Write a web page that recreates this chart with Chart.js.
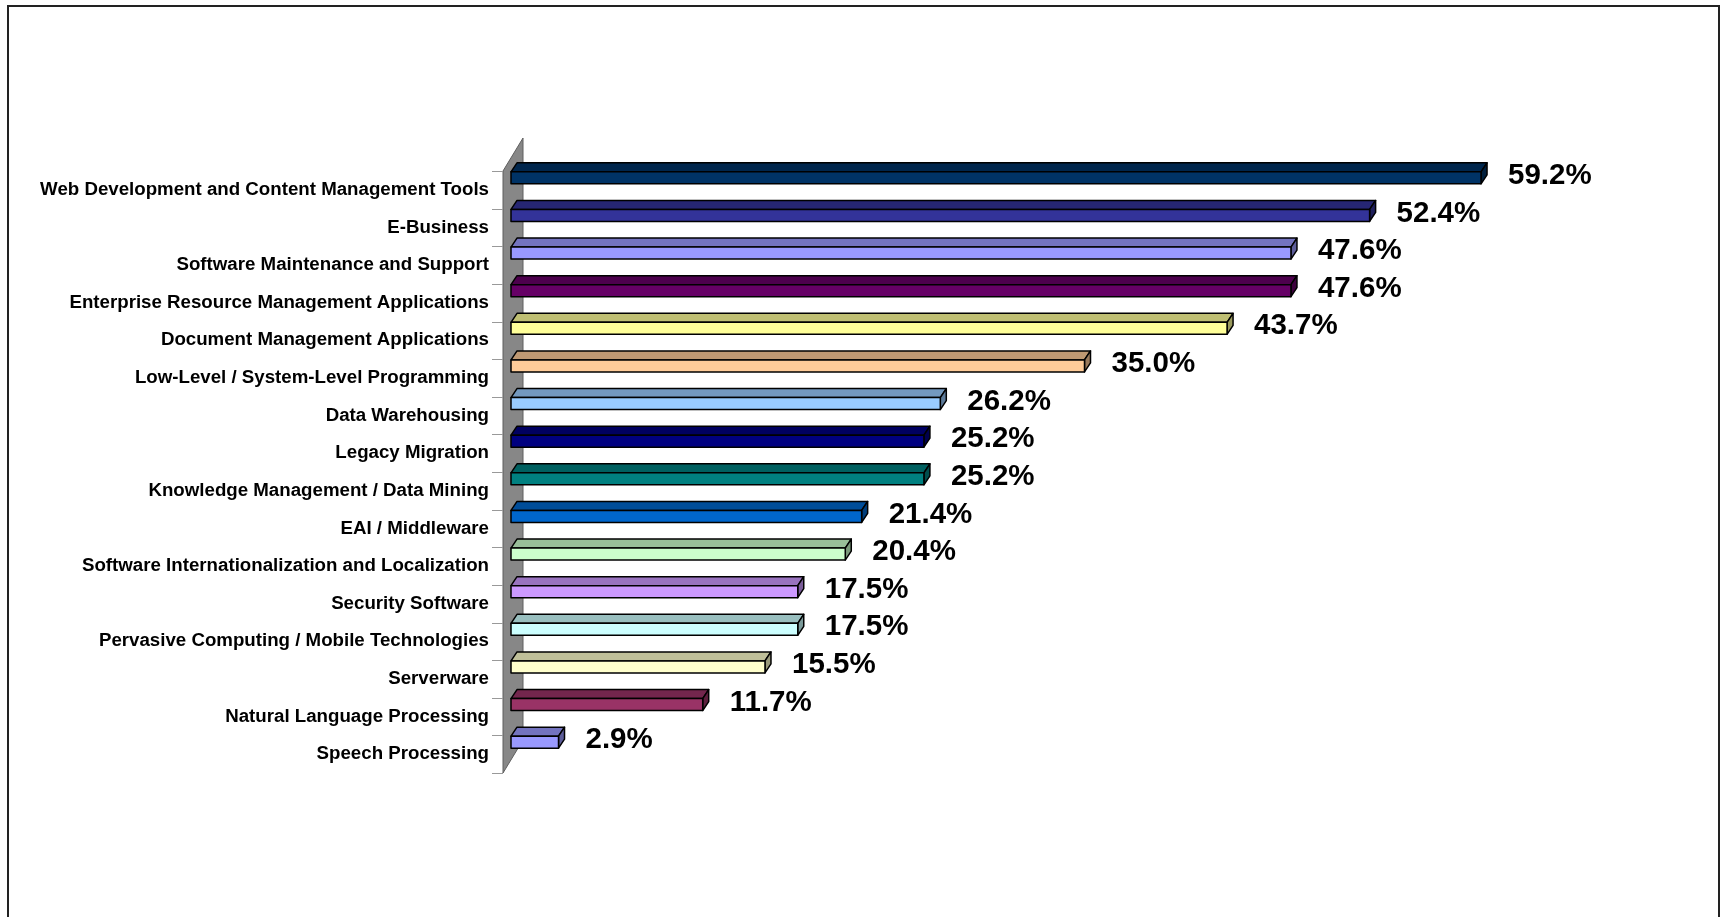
<!DOCTYPE html>
<html>
<head>
<meta charset="utf-8">
<script src="https://cdn.jsdelivr.net/npm/chart.js@4/dist/chart.umd.min.js"></script>
<style>
  html, body { margin: 0; padding: 0; background: #fff; }
  #wrap { width: 1721px; height: 917px; position: relative; }
</style>
</head>
<body>
<div id="wrap"><canvas id="c"></canvas></div>
<script>
const categories = [
  'Web Development and Content Management Tools',
  'E-Business',
  'Software Maintenance and Support',
  'Enterprise Resource Management Applications',
  'Document Management Applications',
  'Low-Level / System-Level Programming',
  'Data Warehousing',
  'Legacy Migration',
  'Knowledge Management / Data Mining',
  'EAI / Middleware',
  'Software Internationalization and Localization',
  'Security Software',
  'Pervasive Computing / Mobile Technologies',
  'Serverware',
  'Natural Language Processing',
  'Speech Processing'
];
const values = [59.2, 52.4, 47.6, 47.6, 43.7, 35.0, 26.2, 25.2, 25.2, 21.4, 20.4, 17.5, 17.5, 15.5, 11.7, 2.9];
const valueLabels = values.map(v => v.toFixed(1) + '%');

const palette = ['#003366','#333399','#9999FF','#660066','#FFFF99','#FFCC99','#99CCFF','#000080',
                 '#008080','#0066CC','#CCFFCC','#CC99FF','#CCFFFF','#FFFFCC','#993366','#9999FF'];

function shade(hex, f) {
  const n = parseInt(hex.slice(1), 16);
  const r = Math.round(((n >> 16) & 255) * f);
  const g = Math.round(((n >> 8) & 255) * f);
  const b = Math.round((n & 255) * f);
  return `rgb(${r},${g},${b})`;
}

const FONT = "'Liberation Sans', Arial, sans-serif";

const deco = {
  id: 'deco',
  beforeDraw(chart) {
    const ctx = chart.ctx;
    const area = chart.chartArea;
    ctx.save();
    // outer border
    ctx.strokeStyle = '#222';
    ctx.lineWidth = 2;
    ctx.strokeRect(8, 6, 1711, 930);
    // side wall
    const step = (area.bottom - area.top) / categories.length;
    const wx0 = area.left - 8, wx1 = area.left + 12, rise = 33;
    ctx.beginPath();
    ctx.moveTo(wx0, area.top);
    ctx.lineTo(wx1, area.top - rise);
    ctx.lineTo(wx1, area.bottom - rise);
    ctx.lineTo(wx0, area.bottom);
    ctx.closePath();
    ctx.fillStyle = '#878787';
    ctx.fill();
    ctx.strokeStyle = '#5e5e5e';
    ctx.lineWidth = 1;
    ctx.stroke();
    // tick marks at category boundaries
    ctx.strokeStyle = '#999';
    ctx.lineWidth = 1;
    for (let i = 0; i <= categories.length; i++) {
      const y = Math.round(area.top + i * step) + 0.5;
      ctx.beginPath();
      ctx.moveTo(wx0 - 11, y);
      ctx.lineTo(wx0, y);
      ctx.stroke();
    }
    ctx.restore();
  },
  afterDatasetsDraw(chart) {
    const ctx = chart.ctx;
    const meta = chart.getDatasetMeta(0);
    const dx = 6, dy = 9, shift = 12, half = 6;
    ctx.save();
    ctx.lineJoin = 'round';
    meta.data.forEach((el, i) => {
      const p = el.getProps(['x', 'y', 'base'], true);
      const x0 = p.base, x1 = p.x;
      const yT = p.y - shift - half, yB = p.y - shift + half;
      const col = palette[i];
      ctx.lineWidth = 1.5;
      ctx.strokeStyle = '#000';
      // top face
      ctx.beginPath();
      ctx.moveTo(x0, yT);
      ctx.lineTo(x0 + dx, yT - dy);
      ctx.lineTo(x1 + dx, yT - dy);
      ctx.lineTo(x1, yT);
      ctx.closePath();
      ctx.fillStyle = shade(col, 0.75);
      ctx.fill(); ctx.stroke();
      // side face
      ctx.beginPath();
      ctx.moveTo(x1, yT);
      ctx.lineTo(x1 + dx, yT - dy);
      ctx.lineTo(x1 + dx, yB - dy);
      ctx.lineTo(x1, yB);
      ctx.closePath();
      ctx.fillStyle = shade(col, 0.6);
      ctx.fill(); ctx.stroke();
      // front face
      ctx.beginPath();
      ctx.rect(x0, yT, x1 - x0, yB - yT);
      ctx.fillStyle = col;
      ctx.fill(); ctx.stroke();
      // value label
      ctx.fillStyle = '#000';
      ctx.font = `bold 29.5px ${FONT}`;
      ctx.textAlign = 'left';
      ctx.textBaseline = 'middle';
      ctx.fillText(valueLabels[i], x1 + 27, p.y - shift - 2);
    });
    ctx.restore();
  }
};

new Chart(document.getElementById('c'), {
  type: 'bar',
  data: {
    labels: categories,
    datasets: [{
      data: values,
      backgroundColor: 'rgba(0,0,0,0)',
      borderWidth: 0,
      barThickness: 12
    }]
  },
  options: {
    indexAxis: 'y',
    responsive: true,
    maintainAspectRatio: false,
    animation: false,
    layout: { padding: { top: 171, bottom: 144, left: 0, right: 63 } },
    plugins: { legend: { display: false }, tooltip: { enabled: false } },
    scales: {
      x: { display: false, min: 0, max: 70 },
      y: {
        grid: { display: false },
        border: { display: false },
        ticks: {
          color: '#000',
          padding: 14,
          autoSkip: false,
          font: { family: FONT, size: 18.7, weight: 'bold' }
        },
        afterFit(scale) { scale.width = 511; }
      }
    }
  },
  plugins: [deco]
});
</script>
</body>
</html>
